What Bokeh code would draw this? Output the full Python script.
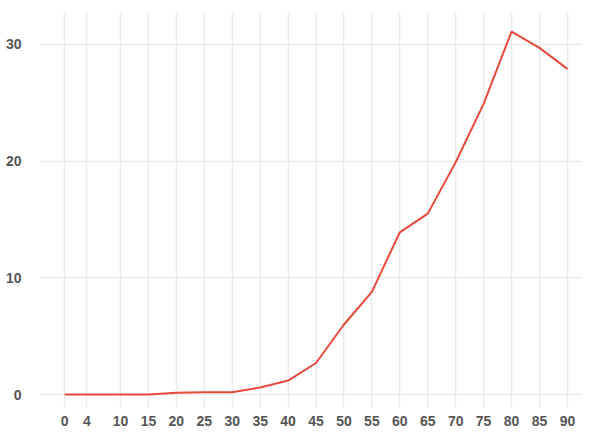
from bokeh.plotting import figure
from bokeh.models import FixedTicker, Range1d
from bokeh.embed import file_html
from bokeh.resources import INLINE

x_ticks = [0, 4, 10, 15, 20, 25, 30, 35, 40, 45, 50, 55, 60, 65, 70, 75, 80, 85, 90]
y_ticks = [0, 10, 20, 30]

ages = [0, 4, 10, 15, 20, 25, 30, 35, 40, 45, 50, 55, 60, 65, 70, 75, 80, 85, 90]
values = [0.0, 0.0, 0.0, 0.0, 0.15, 0.2, 0.2, 0.6, 1.2, 2.7, 6.0, 8.8, 13.9, 15.5, 19.9, 24.9, 31.1, 29.7, 27.9]

p = figure(width=582, height=428, output_backend="svg", toolbar_location=None,
           x_range=Range1d(-4.5, 92.7), y_range=Range1d(-1.11, 32.73),
           min_border_left=39, min_border_right=0, min_border_top=12, min_border_bottom=19)
p.outline_line_color = None
p.background_fill_color = "white"
p.border_fill_color = "white"

p.line(ages, values, line_color="#E64A3B", line_width=2)

for ax in (p.xaxis[0], p.yaxis[0]):
    ax.axis_line_color = None
    ax.major_tick_line_color = None
    ax.minor_tick_line_color = None
    ax.major_label_text_font = "Liberation Sans"
    ax.major_label_text_font_size = "14px"
    ax.major_label_text_font_style = "bold"
    ax.major_label_text_color = "#555555"
p.xaxis[0].ticker = FixedTicker(ticks=x_ticks)
p.yaxis[0].ticker = FixedTicker(ticks=y_ticks)
p.xaxis[0].major_label_standoff = 2
p.yaxis[0].major_label_standoff = 12

p.xgrid[0].ticker = FixedTicker(ticks=x_ticks)
p.ygrid[0].ticker = FixedTicker(ticks=y_ticks)
for g in (p.xgrid[0], p.ygrid[0]):
    g.grid_line_color = "#ebebeb"
    g.grid_line_width = 1.5

open("out.html", "w").write(file_html(p, INLINE))
